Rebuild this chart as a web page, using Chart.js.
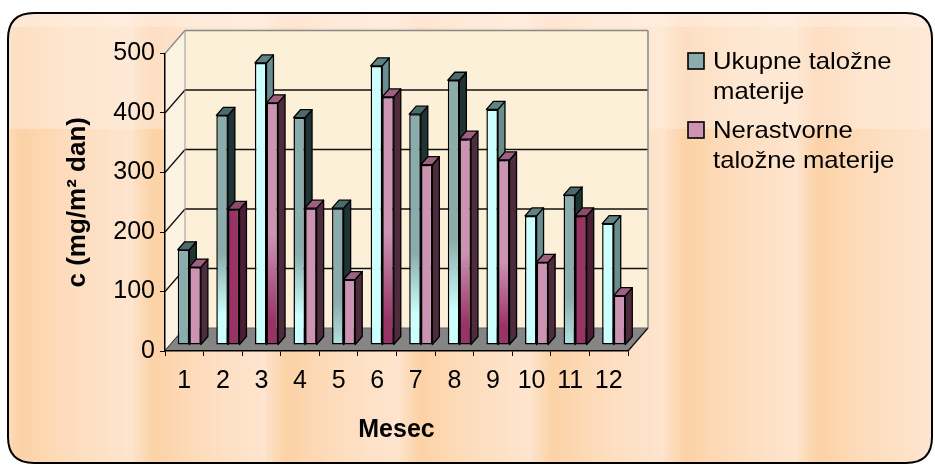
<!DOCTYPE html>
<html><head><meta charset="utf-8">
<script src="https://cdn.jsdelivr.net/npm/chart.js@4.4.1/dist/chart.umd.min.js"></script>
<style>html,body{margin:0;padding:0;background:#fff;}canvas{display:block;}</style>
</head><body>
<canvas id="c" width="935" height="465"></canvas>
<script>
// ---------- data ----------
const months = ['1','2','3','4','5','6','7','8','9','10','11','12'];
const ukupne = [160,386,474,382,230,469,388,445,396,217,252,204];
const nerastvorne = [131,228,407,230,110,417,303,346,311,139,217,83];
const yTickValues = [0,100,200,300,400,500];
const seriesNames = ['Ukupne taložne materije','Nerastvorne taložne materije'];
const yTitle = 'c (mg/m² dan)';
const xTitle = 'Mesec';

// ---------- styles ----------
const FONT = "'Liberation Sans', Arial, Helvetica, sans-serif";
const ukupneStyle = ['solid','grad','cyan','grad','soft','cyan','grad','grad','cyan','cyan','soft','cyan'];
const nerastStyle = ['pink','dark','grad','pink','pink','grad','pink','grad','grad','pink','dark','pink'];
const C = {teal:'#8aacac', cyan:'#ccffff', soft:'#b4e2e2', pink:'#cc93b3', dark:'#993366'};
const DEPTH = {x:20, y:23};
const BAR_OFF = {x:5, y:6};
const BAR_DEPTH = {x:7, y:8};
const tileCols = [0,133,266,400,532,665,798,931];
const tileRows = [13,129,300,465];

function faceColors(series, i){
  const st = (series===0?ukupneStyle:nerastStyle)[i];
  if (series===0){
    if (st==='cyan') return {top:'#5f8282', side:'#6a8e8e'};
    return {top:'#4d6b6b', side:'#1f3434'};
  }
  if (st==='dark') return {top:'#8a4a6a', side:'#4a1f35'};
  return {top:'#9d6282', side:'#4e2b3d'};
}

function fillFor(series, c){
  const i = c.dataIndex;
  const st = (series===0?ukupneStyle:nerastStyle)[i];
  const solid = {solid:C.teal, cyan:C.cyan, pink:C.pink, dark:C.dark};
  if (solid[st]) return solid[st];
  const ys = c.chart.scales && c.chart.scales.y;
  if (!ys || ys.top === undefined) return series===0?C.teal:C.pink;
  const top = ys.getPixelForValue(c.raw), bot = ys.getPixelForValue(0);
  if (!isFinite(top) || !isFinite(bot) || top===bot) return series===0?C.teal:C.pink;
  const g = c.chart.ctx.createLinearGradient(0, top, 0, bot);
  if (series===0 && st==='grad'){ g.addColorStop(0,C.teal); g.addColorStop(0.6,C.teal); g.addColorStop(0.87,C.cyan); g.addColorStop(1,C.cyan); }
  else if (series===0){ g.addColorStop(0,C.teal); g.addColorStop(0.68,C.teal); g.addColorStop(1,C.soft); }
  else { g.addColorStop(0,C.pink); g.addColorStop(0.55,C.pink); g.addColorStop(0.9,C.dark); g.addColorStop(1,C.dark); }
  return g;
}

function roundRectPath(ctx,x,y,w,h,r){
  ctx.beginPath();
  ctx.moveTo(x+r,y); ctx.lineTo(x+w-r,y); ctx.quadraticCurveTo(x+w,y,x+w,y+r);
  ctx.lineTo(x+w,y+h-r); ctx.quadraticCurveTo(x+w,y+h,x+w-r,y+h);
  ctx.lineTo(x+r,y+h); ctx.quadraticCurveTo(x,y+h,x,y+h-r);
  ctx.lineTo(x,y+r); ctx.quadraticCurveTo(x,y,x+r,y); ctx.closePath();
}
function poly(ctx, pts, fill, stroke, lw){
  ctx.beginPath(); ctx.moveTo(pts[0][0],pts[0][1]);
  for (let k=1;k<pts.length;k++) ctx.lineTo(pts[k][0],pts[k][1]);
  ctx.closePath();
  if (fill){ ctx.fillStyle=fill; ctx.fill(); }
  if (stroke){ ctx.strokeStyle=stroke; ctx.lineWidth=lw||1; ctx.stroke(); }
}
function line(ctx,x1,y1,x2,y2,col,lw){
  ctx.beginPath(); ctx.moveTo(x1,y1); ctx.lineTo(x2,y2); ctx.strokeStyle=col; ctx.lineWidth=lw; ctx.stroke();
}

const scene = {
  id:'scene',
  beforeDraw(chart){
    const ctx = chart.ctx, a = chart.chartArea, ys = chart.scales.y;
    ctx.save();
    ctx.fillStyle='#fff'; ctx.fillRect(0,0,chart.width,chart.height);
    roundRectPath(ctx,8,13,924,450,26);
    ctx.save(); ctx.clip();
    ctx.fillStyle='#fde2c8'; ctx.fillRect(0,0,chart.width,chart.height);
    for (let r=0;r<tileRows.length-1;r++){
      for (let c=0;c<tileCols.length-1;c++){
        const x0=tileCols[c], x1=tileCols[c+1], y0=tileRows[r], y1=tileRows[r+1];
        const g = ctx.createLinearGradient(x0,0,x1,0);
        if (r===0){
          g.addColorStop(0,'#fee6d1'); g.addColorStop(0.15,'#fddec2'); g.addColorStop(0.5,'#fee6cf'); g.addColorStop(1,'#fee9d6');
        } else {
          g.addColorStop(0,'#fde2c8'); g.addColorStop(0.15,'#fcd2a6'); g.addColorStop(0.5,'#fddcbc'); g.addColorStop(1,'#fee5cf');
        }
        ctx.fillStyle=g; ctx.fillRect(x0,y0,x1-x0,y1-y0);
      }
    }
    ctx.fillStyle='rgba(255,240,228,0.5)'; ctx.fillRect(0,13,chart.width,14);
    ctx.restore();
    roundRectPath(ctx,8,13,924,450,26);
    ctx.strokeStyle='#000'; ctx.lineWidth=2; ctx.stroke();

    const L=a.left, R=a.right, y0=ys.getPixelForValue(yTickValues[0]);
    const yMax = ys.getPixelForValue(yTickValues[yTickValues.length-1]);
    const dx=DEPTH.x, dy=DEPTH.y;
    poly(ctx, [[L+dx,yMax-dy],[R+dx,yMax-dy],[R+dx,y0-dy],[L+dx,y0-dy]], '#fdf0d9');
    poly(ctx, [[L,yMax],[L+dx,yMax-dy],[L+dx,y0-dy],[L,y0]], '#fdf3e2');
    yTickValues.forEach((v,k)=>{
      const py = ys.getPixelForValue(v);
      const last = k===yTickValues.length-1;
      if (v!==yTickValues[0] && !last) line(ctx, L+dx, py-dy, R+dx, py-dy, '#111', 1.5);
      line(ctx, L, py, L+dx, py-dy, last?'#888':'#111', 1.3);
    });
    line(ctx, L+dx, yMax-dy, R+dx, yMax-dy, '#888', 1.5);
    line(ctx, R+dx, yMax-dy, R+dx, y0-dy, '#888', 1.5);
    line(ctx, L+dx, yMax-dy, L+dx, y0-dy, '#999', 1);
    poly(ctx, [[L,y0],[R,y0],[R+dx,y0-dy],[L+dx,y0-dy]], '#858585');
    line(ctx, R, y0, R+dx, y0-dy, '#111', 1.3);
    line(ctx, L+dx, y0-dy, R+dx, y0-dy, '#666', 1);
    ctx.restore();
  },
  beforeDatasetDraw(){ return false; },
  afterDatasetsDraw(chart){
    const ctx = chart.ctx;
    const metas = [chart.getDatasetMeta(0), chart.getDatasetMeta(1)];
    ctx.save();
    ctx.translate(BAR_OFF.x, -BAR_OFF.y);
    ctx.lineJoin='round';
    for (let i=0;i<months.length;i++){
      metas.forEach((meta,s)=>{
        const el = meta.data[i]; if (!el) return;
        el.draw(ctx);
        const p = el.getProps(['x','y','base','width'], true);
        const l = p.x - p.width/2, r = p.x + p.width/2, t = Math.min(p.y,p.base), b = Math.max(p.y,p.base);
        const fc = faceColors(s,i), bx=BAR_DEPTH.x, by=BAR_DEPTH.y;
        poly(ctx, [[r,t],[r+bx,t-by],[r+bx,b-by],[r,b]], fc.side, '#000', 1.3);
        poly(ctx, [[l,t],[r,t],[r+bx,t-by],[l+bx,t-by]], fc.top, '#000', 1.3);
      });
    }
    ctx.restore();
  },
  afterDraw(chart){
    const ctx = chart.ctx;
    ctx.save();
    ctx.font = '24px ' + FONT;
    ctx.textBaseline='middle'; ctx.textAlign='left'; ctx.fillStyle='#000';
    const x0=713, maxW=190, lineH=30, sx=1.07;
    let yc = 62;
    chart.data.datasets.forEach((ds,s)=>{
      const words = ds.label.split(' '); const lines=[]; let cur='';
      words.forEach(w=>{ const t = cur?cur+' '+w:w; if (ctx.measureText(t).width>maxW && cur){ lines.push(cur); cur=w; } else cur=t; });
      if (cur) lines.push(cur);
      ctx.fillStyle = s===0?C.teal:C.pink;
      ctx.fillRect(688, yc-9, 16, 16);
      ctx.strokeStyle='#000'; ctx.lineWidth=1.6; ctx.strokeRect(688, yc-9, 16, 16);
      ctx.fillStyle='#000';
      lines.forEach((ln,k)=>{
        ctx.save(); ctx.translate(x0, yc+k*lineH); ctx.scale(sx,1); ctx.fillText(ln, 0, 0); ctx.restore();
      });
      yc += lines.length*lineH + 9;
    });
    ctx.restore();
  }
};

new Chart(document.getElementById('c'), {
  type:'bar',
  data:{
    labels: months,
    datasets:[
      {label: seriesNames[0], data: ukupne, backgroundColor: c=>fillFor(0,c), borderColor:'#000', borderWidth:1.5, borderSkipped:false},
      {label: seriesNames[1], data: nerastvorne, backgroundColor: c=>fillFor(1,c), borderColor:'#000', borderWidth:1.5, borderSkipped:false}
    ]
  },
  options:{
    responsive:false, animation:false, devicePixelRatio:1,
    layout:{padding:{left:0, top:53.5, right:307, bottom:0}},
    datasets:{bar:{categoryPercentage:0.6, barPercentage:1.0}},
    plugins:{legend:{display:false}, tooltip:{enabled:false}},
    scales:{
      x:{
        afterFit(s){ s.height = 114; },
        grid:{display:true, drawOnChartArea:false, tickLength:5, tickColor:'#000', offset:true},
        border:{display:true, color:'#000', width:1.5},
        ticks:{color:'#000', font:{family:FONT, size:25}, padding:10, maxRotation:0},
        title:{display:true, text:xTitle, color:'#000', font:{family:FONT, size:25, weight:'bold'}, padding:{top:0, bottom:20}}
      },
      y:{
        min:0, max:500,
        afterFit(s){ s.width = 165; },
        afterBuildTicks(s){ s.ticks = yTickValues.map(v=>({value:v})); },
        grid:{display:true, drawOnChartArea:false, tickLength:5, tickColor:'#000'},
        border:{display:true, color:'#000', width:1.5},
        ticks:{color:'#000', font:{family:FONT, size:25}, padding:5},
        title:{display:true, text:yTitle, color:'#000', font:{family:FONT, size:26, weight:'bold'}, padding:{top:62, bottom:0}}
      }
    }
  },
  plugins:[scene]
});
</script>
</body></html>
